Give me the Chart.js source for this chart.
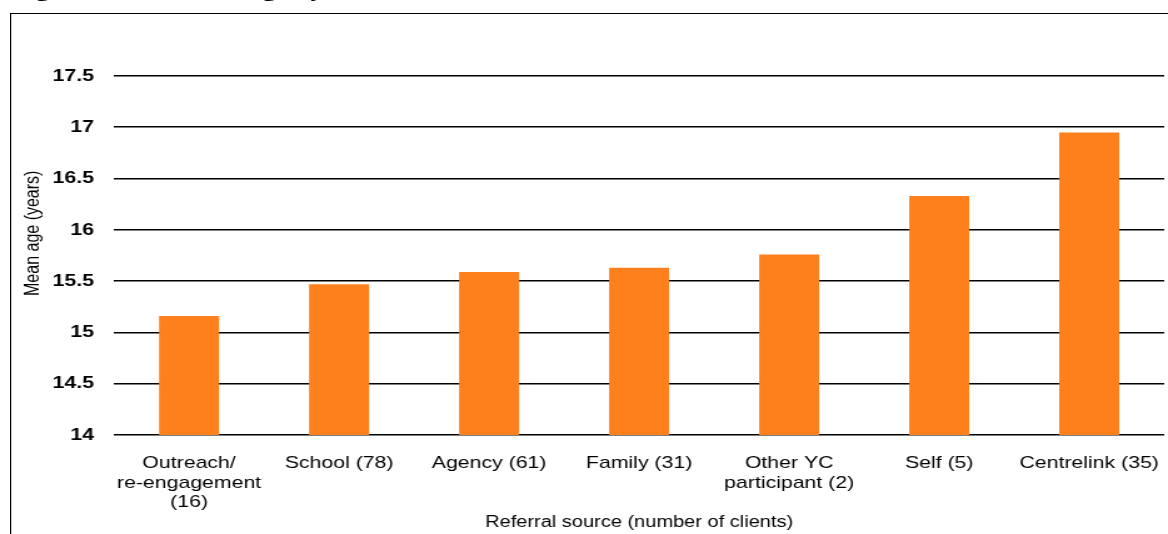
<!DOCTYPE html>
<html>
<head>
<meta charset="utf-8">
<script src="https://cdn.jsdelivr.net/npm/chart.js@4"></script>
<style>
  html, body { margin: 0; padding: 0; background: #fff; overflow: hidden; }
  #page { position: relative; width: 1168px; height: 534px; overflow: hidden; }
  /* the reference is stretched sideways, so the whole figure is drawn narrow and widened */
  #wrap {
    position: absolute; left: 0; top: 0;
    width: 934px; height: 534px;
    transform: scaleX(1.2505); transform-origin: 0 0;
  }
  #frame {
    position: absolute; left: 8px; top: 13px; width: 2000px; height: 2000px;
    border-left: 1.4px solid #000; border-top: 1.5px solid #000;
  }
  #caption {
    position: absolute; left: 9px; top: -22px; margin: 0;
    font: bold 22px/1 'Liberation Serif', 'Times New Roman', serif;
    white-space: nowrap; color: #000;
  }
  #my { position: absolute; left: 0; top: 0; }
</style>
</head>
<body>
<div id="page">
  <div id="wrap">
    <div id="caption">Figure 5: The mean age by referral source</div>
    <div id="frame"></div>
    <canvas id="my" width="934" height="534"></canvas>
  </div>
</div>
<script>
// referral sources, split over lines as in the figure
const categories = [
  ['Outreach/', 're-engagement', '(16)'],
  ['School (78)'],
  ['Agency (61)'],
  ['Family (31)'],
  ['Other YC', 'participant (2)'],
  ['Self (5)'],
  ['Centrelink (35)']
];

// mean age in years
const meanAge = [15.16, 15.47, 15.59, 15.63, 15.76, 16.33, 16.95];

const yMin = 14;
const yMax = 17.5;
const yStep = 0.5;

const font = "'Liberation Sans', Arial, sans-serif";

const ctx = document.getElementById('my');

new Chart(ctx, {
  type: 'bar',
  data: {
    labels: categories,
    datasets: [{
      label: 'Mean age',
      data: meanAge,
      backgroundColor: '#FD801D',
      borderWidth: 0,
      barPercentage: 0.4,
      categoryPercentage: 1
    }]
  },
  options: {
    responsive: false,
    animation: false,
    layout: { padding: { top: 76, left: 10, right: 3, bottom: 0 } },
    plugins: {
      legend: { display: false },
      tooltip: { enabled: false }
    },
    scales: {
      x: {
        grid: { display: false, drawTicks: false },
        border: { display: false },
        ticks: {
          color: '#000',
          font: { family: font, size: 17, lineHeight: 1.13 },
          padding: 19,
          maxRotation: 0,
          autoSkip: false
        },
        title: {
          display: true,
          text: 'Referral source (number of clients)',
          color: '#000',
          font: { family: font, size: 16, lineHeight: 1.2 },
          padding: { top: 0, bottom: 2 }
        },
        afterFit: function(scale) {
          scale.height = 99;
          scale.paddingLeft = 0;
          scale.paddingRight = 0;
        }
      },
      y: {
        min: yMin,
        max: yMax,
        grid: { color: '#000', lineWidth: 1.6, drawTicks: false },
        border: { display: false },
        ticks: {
          stepSize: yStep,
          color: '#000',
          font: { family: font, size: 17, weight: 'bold' },
          padding: 16,
          callback: function(v) { return String(v); }
        },
        title: {
          display: true,
          // leading spaces lift the title, as in the figure
          text: '          Mean age (years)',
          color: '#000',
          font: { family: font, size: 16, lineHeight: 1.2 },
          padding: { top: 7, bottom: 0 }
        },
        afterFit: function(scale) {
          scale.width = 81.2;
          scale.paddingTop = 0;
          scale.paddingBottom = 0;
        }
      }
    }
  }
});
</script>
</body>
</html>
